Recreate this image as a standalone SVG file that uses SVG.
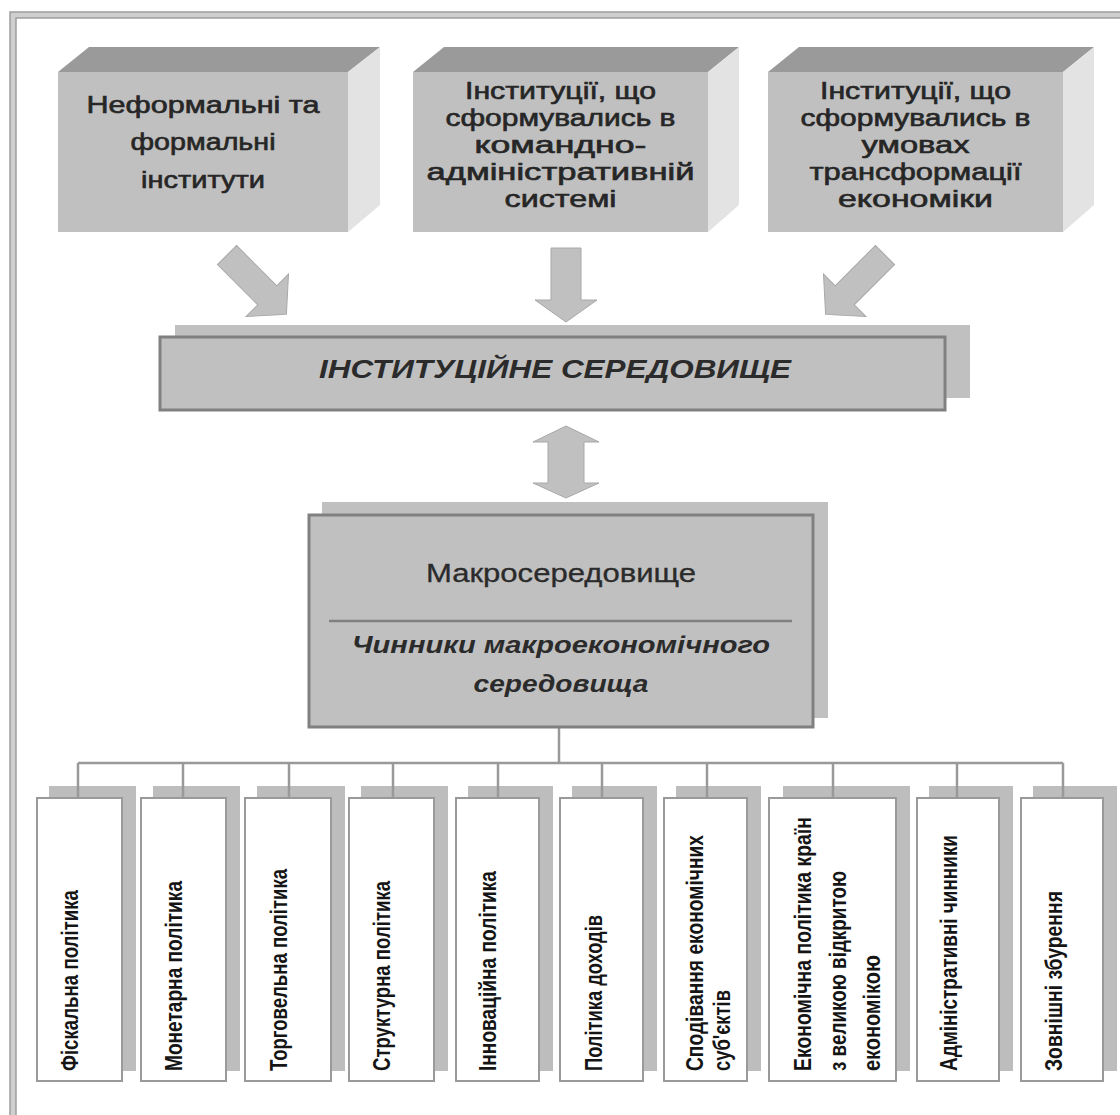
<svg xmlns="http://www.w3.org/2000/svg" width="1120" height="1115" viewBox="0 0 1120 1115">
<style>
.bg{fill:#ffffff}
.frame{fill:none;stroke:#cfcfcf;stroke-width:6}
.frameline{fill:none;stroke:#9e9e9e;stroke-width:1.5}
.front{fill:#c0c0c0}
.top{fill:#9a9a9a}
.side{fill:#e3e3e3}
.tt{font-family:"Liberation Sans",Arial,sans-serif;font-size:23px;fill:#262626;stroke:#262626;stroke-width:0.6;text-anchor:middle}
.arrow{fill:#c0c0c0;stroke:#a8a8a8;stroke-width:1}
.shadow{fill:#c0c0c0}
.mainbox{fill:#c0c0c0;stroke:#808080;stroke-width:3}
.sep{stroke:#808080;stroke-width:2.5}
.vbox{fill:#ffffff;stroke:#9a9a9a;stroke-width:2}
.vshadow{fill:#bdbdbd}
.vt{font-family:"Liberation Sans",Arial,sans-serif;font-size:24px;font-weight:bold;fill:#151515}
.conn{stroke:#999999;stroke-width:2.5;fill:none}
</style>
<defs>
<polygon id="arrowDiag" points="0,-13.5 57,-13.5 57,-30 84,0 57,30 57,13.5 0,13.5"/>
</defs>
<rect class="bg" x="0" y="0" width="1120" height="1115"/>
<g id="frame">
<rect class="frame" x="13" y="15" width="1130" height="1130"/>
<rect class="frameline" x="10" y="12" width="1140" height="1140"/>
<rect class="frameline" x="16" y="18" width="1130" height="1130"/>
</g>

<g id="box-informal">
<polygon class="top" points="58,72 89,47 380,47 348,72"/>
<polygon class="side" points="348,72 380,47 380,205 348,232"/>
<rect class="front" x="58" y="72" width="290" height="160"/>
<text class="tt" x="203" y="113" textLength="233" lengthAdjust="spacingAndGlyphs">Неформальні та</text>
<text class="tt" x="203" y="150" textLength="145" lengthAdjust="spacingAndGlyphs">формальні</text>
<text class="tt" x="203" y="188" textLength="124" lengthAdjust="spacingAndGlyphs">інститути</text>
</g>

<g id="box-command">
<polygon class="top" points="413,72 444,47 739,47 708,72"/>
<polygon class="side" points="708,72 739,47 739,205 708,232"/>
<rect class="front" x="413" y="72" width="295" height="160"/>
<text class="tt" x="560.5" y="99" textLength="191" lengthAdjust="spacingAndGlyphs">Інституції, що</text>
<text class="tt" x="560.5" y="126" textLength="230" lengthAdjust="spacingAndGlyphs">сформувались в</text>
<text class="tt" x="560.5" y="153" textLength="172" lengthAdjust="spacingAndGlyphs">командно-</text>
<text class="tt" x="560.5" y="180" textLength="268" lengthAdjust="spacingAndGlyphs">адміністративній</text>
<text class="tt" x="560.5" y="207" textLength="112" lengthAdjust="spacingAndGlyphs">системі</text>
</g>

<g id="box-transform">
<polygon class="top" points="768,72 799,47 1094,47 1063,72"/>
<polygon class="side" points="1063,72 1094,47 1094,205 1063,232"/>
<rect class="front" x="768" y="72" width="295" height="160"/>
<text class="tt" x="915.5" y="99" textLength="191" lengthAdjust="spacingAndGlyphs">Інституції, що</text>
<text class="tt" x="915.5" y="126" textLength="230" lengthAdjust="spacingAndGlyphs">сформувались в</text>
<text class="tt" x="915.5" y="153" textLength="108" lengthAdjust="spacingAndGlyphs">умовах</text>
<text class="tt" x="915.5" y="180" textLength="212" lengthAdjust="spacingAndGlyphs">трансформації</text>
<text class="tt" x="915.5" y="207" textLength="155" lengthAdjust="spacingAndGlyphs">економіки</text>
</g>

<g id="connectors">
<use href="#arrowDiag" class="arrow" transform="translate(227,255) rotate(45)"/>
<use href="#arrowDiag" class="arrow" transform="translate(885,255) rotate(135)"/>
<polygon class="arrow" points="551,248 581,248 581,300 597,300 566,322 535,300 551,300"/>
<polygon class="arrow" points="566,426 599,442 584,442 584,483 599,483 566,498 533,483 548,483 548,442 533,442"/>
<line class="conn" x1="559" y1="727" x2="559" y2="763"/>
<line class="conn" x1="78" y1="763" x2="1063" y2="763"/>
</g>

<g id="box-institutional">
<rect class="shadow" x="175" y="325" width="795" height="73"/>
<rect class="mainbox" x="160" y="337" width="785" height="73"/>
<text x="555" y="378" textLength="472" lengthAdjust="spacingAndGlyphs" style="font-family:'Liberation Sans',Arial,sans-serif;font-size:26px;font-weight:bold;font-style:italic;fill:#2b2b2b;text-anchor:middle">ІНСТИТУЦІЙНЕ СЕРЕДОВИЩЕ</text>
</g>

<g id="box-macro">
<rect class="shadow" x="322" y="502" width="506" height="216"/>
<rect class="mainbox" x="309" y="515" width="504" height="212"/>
<line class="sep" x1="329" y1="621" x2="792" y2="621"/>
<text x="561" y="582" textLength="270" lengthAdjust="spacingAndGlyphs" style="font-family:'Liberation Sans',Arial,sans-serif;font-size:25px;fill:#2b2b2b;stroke:#2b2b2b;stroke-width:0.3;text-anchor:middle">Макросередовище</text>
<text x="561" y="653" textLength="418" lengthAdjust="spacingAndGlyphs" style="font-family:'Liberation Sans',Arial,sans-serif;font-size:23px;font-weight:bold;font-style:italic;fill:#2b2b2b;text-anchor:middle">Чинники макроекономічного</text>
<text x="561" y="692" textLength="175" lengthAdjust="spacingAndGlyphs" style="font-family:'Liberation Sans',Arial,sans-serif;font-size:23px;font-weight:bold;font-style:italic;fill:#2b2b2b;text-anchor:middle">середовища</text>
</g>

<g id="f1">
<rect class="vshadow" x="49" y="786" width="87" height="285"/>
<rect class="vbox" x="37" y="798" width="85" height="283"/>
<line class="conn" x1="78" y1="763" x2="78" y2="798"/>
<text class="vt" transform="translate(78,1071) rotate(-90)" textLength="181" lengthAdjust="spacingAndGlyphs">Фіскальна політика</text>
</g>
<g id="f2">
<rect class="vshadow" x="153" y="786" width="87" height="285"/>
<rect class="vbox" x="141" y="798" width="85" height="283"/>
<line class="conn" x1="183" y1="763" x2="183" y2="798"/>
<text class="vt" transform="translate(182,1071) rotate(-90)" textLength="190" lengthAdjust="spacingAndGlyphs">Монетарна політика</text>
</g>
<g id="f3">
<rect class="vshadow" x="257" y="786" width="88" height="285"/>
<rect class="vbox" x="245" y="798" width="86" height="283"/>
<line class="conn" x1="289" y1="763" x2="289" y2="798"/>
<text class="vt" transform="translate(287,1071) rotate(-90)" textLength="202" lengthAdjust="spacingAndGlyphs">Торговельна політика</text>
</g>
<g id="f4">
<rect class="vshadow" x="361" y="786" width="87" height="285"/>
<rect class="vbox" x="349" y="798" width="85" height="283"/>
<line class="conn" x1="393" y1="763" x2="393" y2="798"/>
<text class="vt" transform="translate(390,1071) rotate(-90)" textLength="190" lengthAdjust="spacingAndGlyphs">Структурна політика</text>
</g>
<g id="f5">
<rect class="vshadow" x="468" y="786" width="85" height="285"/>
<rect class="vbox" x="456" y="798" width="83" height="283"/>
<line class="conn" x1="498" y1="763" x2="498" y2="798"/>
<text class="vt" transform="translate(496,1071) rotate(-90)" textLength="200" lengthAdjust="spacingAndGlyphs">Інноваційна політика</text>
</g>
<g id="f6">
<rect class="vshadow" x="572" y="786" width="85" height="285"/>
<rect class="vbox" x="560" y="798" width="83" height="283"/>
<line class="conn" x1="602" y1="763" x2="602" y2="798"/>
<text class="vt" transform="translate(602,1071) rotate(-90)" textLength="156" lengthAdjust="spacingAndGlyphs">Політика доходів</text>
</g>
<g id="f7">
<rect class="vshadow" x="676" y="786" width="85" height="285"/>
<rect class="vbox" x="664" y="798" width="83" height="283"/>
<line class="conn" x1="707" y1="763" x2="707" y2="798"/>
<text class="vt" transform="translate(703,1071) rotate(-90)" textLength="236" lengthAdjust="spacingAndGlyphs">Сподівання економічних</text>
<text class="vt" transform="translate(730,1071) rotate(-90)" textLength="81" lengthAdjust="spacingAndGlyphs">суб'єктів</text>
</g>
<g id="f8">
<rect class="vshadow" x="783" y="786" width="127" height="285"/>
<rect class="vbox" x="769" y="798" width="127" height="283"/>
<line class="conn" x1="833" y1="763" x2="833" y2="798"/>
<text class="vt" transform="translate(811,1071) rotate(-90)" textLength="254" lengthAdjust="spacingAndGlyphs">Економічна політика країн</text>
<text class="vt" transform="translate(846,1071) rotate(-90)" textLength="200" lengthAdjust="spacingAndGlyphs">з великою відкритою</text>
<text class="vt" transform="translate(880,1071) rotate(-90)" textLength="116" lengthAdjust="spacingAndGlyphs">економікою</text>
</g>
<g id="f9">
<rect class="vshadow" x="929" y="786" width="84" height="285"/>
<rect class="vbox" x="917" y="798" width="82" height="283"/>
<line class="conn" x1="957" y1="763" x2="957" y2="798"/>
<text class="vt" transform="translate(957,1071) rotate(-90)" textLength="236" lengthAdjust="spacingAndGlyphs">Адміністративні чинники</text>
</g>
<g id="f10">
<rect class="vshadow" x="1033" y="786" width="84" height="285"/>
<rect class="vbox" x="1021" y="798" width="82" height="283"/>
<line class="conn" x1="1063" y1="763" x2="1063" y2="798"/>
<text class="vt" transform="translate(1062,1071) rotate(-90)" textLength="180" lengthAdjust="spacingAndGlyphs">Зовнішні збурення</text>
</g>
</svg>
